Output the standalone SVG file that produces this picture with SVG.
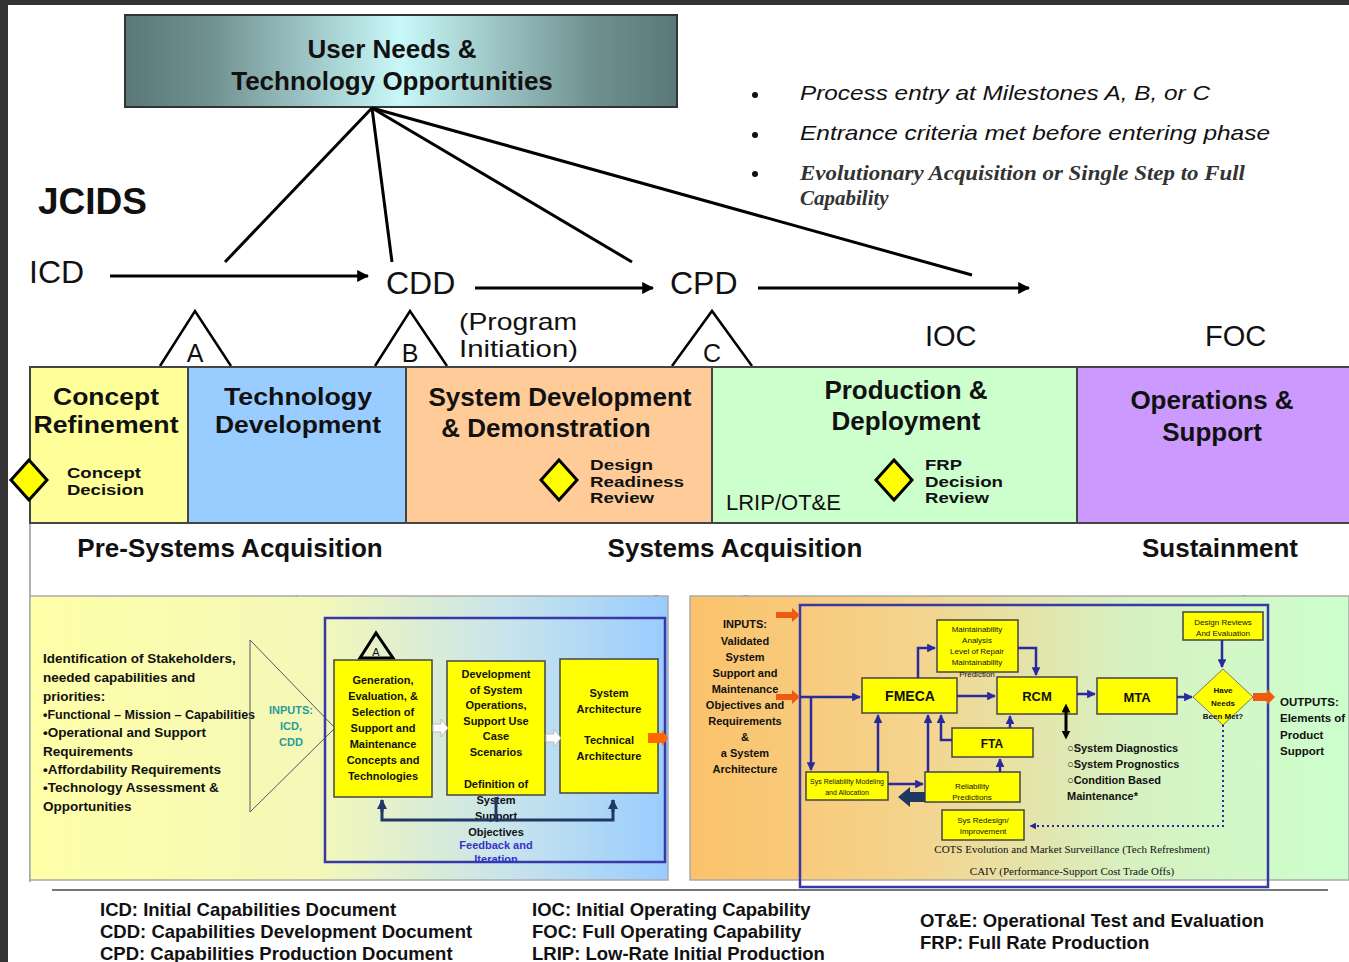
<svg xmlns="http://www.w3.org/2000/svg" width="1349" height="962" viewBox="0 0 1349 962">
<defs>
<style>
text{font-family:"Liberation Sans",Arial,sans-serif;fill:#111}
.b{font-weight:bold}
.ph{font-size:26px;font-weight:bold;text-anchor:middle}
.ph2{font-size:24px;font-weight:bold;text-anchor:middle}
.big{font-size:32px}
.dec{font-size:14.5px;font-weight:bold}
.sm{font-size:11px;font-weight:bold;text-anchor:middle}
.xs{font-size:8px;text-anchor:middle}
.lg{font-size:18.5px;font-weight:bold}
.yb{fill:#ffff00;stroke:#444;stroke-width:1.5}
.bl{stroke:#2a2aa0;stroke-width:2.5;fill:none}
.tri{fill:none;stroke:#000;stroke-width:2.5}
.dia{fill:#ffff00;stroke:#000;stroke-width:3}
</style>
<linearGradient id="gTop" x1="0" x2="1" y1="0" y2="0">
<stop offset="0" stop-color="#5a7879"/><stop offset="0.15" stop-color="#6f8f90"/><stop offset="0.5" stop-color="#c9f8f8"/><stop offset="0.85" stop-color="#6f8f90"/><stop offset="1" stop-color="#5a7879"/>
</linearGradient>
<linearGradient id="gLeft" x1="0" x2="1" y1="0" y2="0">
<stop offset="0" stop-color="#ffffa8"/><stop offset="0.45" stop-color="#f4f8b8"/><stop offset="0.75" stop-color="#c8e4ec"/><stop offset="1" stop-color="#99ccff"/>
</linearGradient>
<linearGradient id="gRight" x1="0" x2="1" y1="0" y2="0">
<stop offset="0" stop-color="#fbc26a"/><stop offset="0.35" stop-color="#f4d48e"/><stop offset="0.65" stop-color="#d8f0c0"/><stop offset="1" stop-color="#ccffcc"/>
</linearGradient>
<marker id="ak" viewBox="0 0 10 10" refX="9" refY="5" markerWidth="4" markerHeight="4" orient="auto"><path d="M0,0L10,5L0,10z" fill="#000"/></marker>
<marker id="ab" viewBox="0 0 10 10" refX="9" refY="5" markerWidth="3.5" markerHeight="3.5" orient="auto"><path d="M0,0L10,5L0,10z" fill="#2a2aa0"/></marker>
<marker id="an" viewBox="0 0 10 10" refX="9" refY="5" markerWidth="3.5" markerHeight="3.5" orient="auto"><path d="M0,0L10,5L0,10z" fill="#203864"/></marker>
<marker id="akb" viewBox="0 0 10 10" refX="5" refY="5" markerWidth="3" markerHeight="3" orient="auto-start-reverse"><path d="M0,0L10,5L0,10z" fill="#000"/></marker>
</defs>
<rect width="1349" height="962" fill="#fff"/>
<rect width="1349" height="5" fill="#333"/>
<rect width="8" height="962" fill="#333"/>

<g id="top-box">
<rect x="125" y="15" width="552" height="92" fill="url(#gTop)" stroke="#333" stroke-width="2"/>
<text x="392" y="58" class="b" font-size="26" text-anchor="middle">User Needs &amp;</text>
<text x="392" y="90" class="b" font-size="26" text-anchor="middle">Technology Opportunities</text>
</g>

<g id="bullets" font-size="21">
<circle cx="755" cy="95" r="3" fill="#111"/>
<circle cx="755" cy="135" r="3" fill="#111"/>
<circle cx="755" cy="174" r="3" fill="#111"/>
<text x="800" y="100" textLength="410" lengthAdjust="spacingAndGlyphs" style="font-style:italic">Process entry at Milestones A, B, or C</text>
<text x="800" y="140" textLength="470" lengthAdjust="spacingAndGlyphs" style="font-style:italic">Entrance criteria met before entering phase</text>
<text x="800" y="180" textLength="445" lengthAdjust="spacingAndGlyphs" style="font-family:'Liberation Serif',serif;font-style:italic;font-weight:bold;fill:#333">Evolutionary Acquisition or Single Step to Full</text>
<text x="800" y="205" style="font-family:'Liberation Serif',serif;font-style:italic;font-weight:bold;fill:#333">Capability</text>
</g>

<g id="jcids">
<text x="38" y="214" class="b" font-size="37">JCIDS</text>
<text x="29" y="283" class="big">ICD</text>
<text x="386" y="294" class="big">CDD</text>
<text x="670" y="294" class="big">CPD</text>
<text x="459" y="330" font-size="24" textLength="118" lengthAdjust="spacingAndGlyphs">(Program</text>
<text x="459" y="357" font-size="24" textLength="119" lengthAdjust="spacingAndGlyphs">Initiation)</text>
<text x="925" y="346" font-size="29">IOC</text>
<text x="1205" y="346" font-size="29">FOC</text>
</g>

<g id="milestones">
<path class="tri" d="M160,366L195,311L231,366"/>
<text x="195" y="362" font-size="25" text-anchor="middle">A</text>
<path class="tri" d="M375,366L410,311L447,366"/>
<text x="410" y="362" font-size="25" text-anchor="middle">B</text>
<path class="tri" d="M672,366L712,311L752,366"/>
<text x="712" y="362" font-size="25" text-anchor="middle">C</text>
</g>

<g id="connectors">
<g stroke="#000" stroke-width="3" fill="none">
<line x1="372" y1="108" x2="225" y2="262"/>
<line x1="372" y1="108" x2="392" y2="262"/>
<line x1="372" y1="108" x2="632" y2="262"/>
<line x1="372" y1="108" x2="972" y2="275"/>
<line x1="110" y1="276" x2="368" y2="276" marker-end="url(#ak)"/>
<line x1="475" y1="288" x2="653" y2="288" marker-end="url(#ak)"/>
<line x1="758" y1="288" x2="1029" y2="288" marker-end="url(#ak)"/>
</g>
<g stroke="#555" stroke-width="1" fill="none">
<line x1="188" y1="523" x2="330" y2="618"/>
<line x1="406" y1="523" x2="665" y2="598"/>
<line x1="406" y1="523" x2="800" y2="607"/>
<line x1="1077" y1="523" x2="1268" y2="606"/>
</g>
</g>

<g id="phases">
<rect x="8" y="523" width="1341" height="72" fill="#fff"/>
<line x1="30" y1="523" x2="30" y2="882" stroke="#999" stroke-width="1.5"/>
<rect x="30" y="367" width="158" height="156" fill="#ffff99" stroke="#444" stroke-width="2"/>
<rect x="188" y="367" width="218" height="156" fill="#99ccff" stroke="#444" stroke-width="2"/>
<rect x="406" y="367" width="306" height="156" fill="#ffcc99" stroke="#444" stroke-width="2"/>
<rect x="712" y="367" width="365" height="156" fill="#ccffcc" stroke="#444" stroke-width="2"/>
<rect x="1077" y="367" width="274" height="156" fill="#cc99ff" stroke="#444" stroke-width="2"/>
</g>

<g id="concept-refinement">
<text x="106" y="405" class="ph2" textLength="106" lengthAdjust="spacingAndGlyphs">Concept</text>
<text x="106" y="433" class="ph2" textLength="145" lengthAdjust="spacingAndGlyphs">Refinement</text>
<path class="dia" d="M29,460L47,480L29,500L11,480z"/>
<text x="67" y="478" class="dec" textLength="74" lengthAdjust="spacingAndGlyphs">Concept</text>
<text x="67" y="495" class="dec" textLength="77" lengthAdjust="spacingAndGlyphs">Decision</text>
</g>
<g id="technology-development">
<text x="298" y="405" class="ph2" textLength="148" lengthAdjust="spacingAndGlyphs">Technology</text>
<text x="298" y="433" class="ph2" textLength="166" lengthAdjust="spacingAndGlyphs">Development</text>
</g>
<g id="sdd">
<text x="560" y="406" class="ph">System Development</text>
<text x="546" y="437" class="ph">&amp; Demonstration</text>
<path class="dia" d="M559,460L577,480L559,500L541,480z"/>
<text x="590" y="470" class="dec" textLength="63" lengthAdjust="spacingAndGlyphs">Design</text>
<text x="590" y="486.5" class="dec" textLength="94" lengthAdjust="spacingAndGlyphs">Readiness</text>
<text x="590" y="503" class="dec" textLength="64" lengthAdjust="spacingAndGlyphs">Review</text>
</g>
<g id="production-deployment">
<text x="906" y="399" class="ph">Production &amp;</text>
<text x="906" y="430" class="ph">Deployment</text>
<path class="dia" d="M894,460L912,480L894,500L876,480z"/>
<text x="925" y="470" class="dec" textLength="37" lengthAdjust="spacingAndGlyphs">FRP</text>
<text x="925" y="486.5" class="dec" textLength="78" lengthAdjust="spacingAndGlyphs">Decision</text>
<text x="925" y="503" class="dec" textLength="64" lengthAdjust="spacingAndGlyphs">Review</text>
<text x="726" y="510" font-size="22">LRIP/OT&amp;E</text>
</g>
<g id="operations-support">
<text x="1212" y="409" class="ph">Operations &amp;</text>
<text x="1212" y="441" class="ph">Support</text>
</g>
<g id="acq-labels">
<text x="230" y="557" class="ph">Pre-Systems Acquisition</text>
<text x="735" y="557" class="ph">Systems Acquisition</text>
<text x="1220" y="557" class="ph">Sustainment</text>
</g>

<g id="left-panel">
<rect x="30" y="596" width="638" height="284" fill="url(#gLeft)" stroke="#aaa" stroke-width="1.5"/>
<g font-size="13.5" font-weight="bold" fill="#222">
<text x="43" y="663">Identification of Stakeholders,</text>
<text x="43" y="682">needed capabilities and</text>
<text x="43" y="701">priorities:</text>
<text x="43" y="719" font-size="12.5">•Functional – Mission – Capabilities</text>
<text x="43" y="737">•Operational and Support</text>
<text x="43" y="756">Requirements</text>
<text x="43" y="774">•Affordability Requirements</text>
<text x="43" y="792">•Technology Assessment &amp;</text>
<text x="43" y="811">Opportunities</text>
</g>
<path d="M250,640L335,728L250,812z" fill="none" stroke="#556" stroke-width="1"/>
<text x="291" y="714" class="sm" style="fill:#2a9a9a">INPUTS:</text>
<text x="291" y="730" class="sm" style="fill:#2a9a9a">ICD,</text>
<text x="291" y="746" class="sm" style="fill:#2a9a9a">CDD</text>
<rect x="325" y="618" width="340" height="244" fill="none" stroke="#3838a8" stroke-width="2.5"/>
<path d="M360,658L376,633L393,658z" fill="none" stroke="#000" stroke-width="3"/>
<text x="376" y="656" font-size="11" text-anchor="middle">A</text>
</g>

<g id="box-concepts">
<rect class="yb" x="334" y="660" width="98" height="137"/>
<text x="383" y="684" class="sm">Generation,</text>
<text x="383" y="700" class="sm">Evaluation, &amp;</text>
<text x="383" y="716" class="sm">Selection of</text>
<text x="383" y="732" class="sm">Support and</text>
<text x="383" y="748" class="sm">Maintenance</text>
<text x="383" y="764" class="sm">Concepts and</text>
<text x="383" y="780" class="sm">Technologies</text>
</g>
<g id="box-operations">
<rect class="yb" x="447" y="661" width="98" height="134"/>
<text x="496" y="678" class="sm">Development</text>
<text x="496" y="694" class="sm">of System</text>
<text x="496" y="709" class="sm">Operations,</text>
<text x="496" y="725" class="sm">Support Use</text>
<text x="496" y="740" class="sm">Case</text>
<text x="496" y="756" class="sm">Scenarios</text>
<text x="496" y="788" class="sm">Definition of</text>
<text x="496" y="804" class="sm">System</text>
<text x="496" y="820" class="sm">Support</text>
<text x="496" y="836" class="sm">Objectives</text>
</g>
<g id="box-architecture">
<rect class="yb" x="560" y="659" width="98" height="134"/>
<text x="609" y="697" class="sm">System</text>
<text x="609" y="713" class="sm">Architecture</text>
<text x="609" y="744" class="sm">Technical</text>
<text x="609" y="760" class="sm">Architecture</text>
</g>
<g id="left-flow">
<path d="M433,724h8v-5l7,9l-7,9v-5h-8z" fill="#fff" stroke="#bbb"/>
<path d="M546,734h8v-5l7,9l-7,9v-5h-8z" fill="#fff" stroke="#bbb"/>
<path d="M648,733h14v-3l6,8l-6,8v-3h-14z" fill="#ff6600"/>
<path d="M382,800V820H613V800" fill="none" stroke="#203864" stroke-width="3"/>
<line x1="382" y1="812" x2="382" y2="800" stroke="#203864" stroke-width="3" marker-end="url(#an)"/>
<line x1="613" y1="812" x2="613" y2="800" stroke="#203864" stroke-width="3" marker-end="url(#an)"/>
<line x1="496" y1="797" x2="496" y2="820" stroke="#203864" stroke-width="3"/>
<text x="496" y="849" class="sm" style="fill:#3333cc">Feedback and</text>
<text x="496" y="863" class="sm" style="fill:#3333cc">Iteration</text>
</g>

<g id="right-panel">
<rect x="690" y="596" width="659" height="284" fill="url(#gRight)" stroke="#aaa" stroke-width="1.5"/>
<g>
<text x="745" y="628" class="sm">INPUTS:</text>
<text x="745" y="645" class="sm">Validated</text>
<text x="745" y="661" class="sm">System</text>
<text x="745" y="677" class="sm">Support and</text>
<text x="745" y="693" class="sm">Maintenance</text>
<text x="745" y="709" class="sm">Objectives and</text>
<text x="745" y="725" class="sm">Requirements</text>
<text x="745" y="741" class="sm">&amp;</text>
<text x="745" y="757" class="sm">a System</text>
<text x="745" y="773" class="sm">Architecture</text>
</g>
<rect x="800" y="605" width="468" height="282" fill="none" stroke="#3838a8" stroke-width="2.5"/>
<path d="M776,612h16v-4l8,7l-8,7v-4h-16z" fill="#ee5a10"/>
<path d="M776,694h16v-4l8,7l-8,7v-4h-16z" fill="#ee5a10"/>
<path d="M1253,693h14v-4l8,8l-8,8v-4h-14z" fill="#ee5a10"/>
<g font-size="11.5" font-weight="bold">
<text x="1280" y="706">OUTPUTS:</text>
<text x="1280" y="722">Elements of</text>
<text x="1280" y="739">Product</text>
<text x="1280" y="755">Support</text>
</g>
</g>

<g id="fmeca"><rect class="yb" x="862" y="678" width="95" height="35"/><text x="910" y="701" class="sm" style="font-size:14px">FMECA</text></g>
<g id="maintainability"><rect class="yb" x="937" y="620" width="81" height="52"/>
<text x="977" y="632" class="xs">Maintainability</text><text x="977" y="643" class="xs">Analysis</text><text x="977" y="654" class="xs">Level of Repair</text><text x="977" y="665" class="xs">Maintainability</text><text x="977" y="677" class="xs">Prediction</text></g>
<g id="rcm"><rect class="yb" x="997" y="677" width="80" height="37"/><text x="1037" y="701" class="sm" style="font-size:13px">RCM</text></g>
<g id="mta"><rect class="yb" x="1097" y="678" width="80" height="36"/><text x="1137" y="702" class="sm" style="font-size:13px">MTA</text></g>
<g id="needs-met"><path d="M1223,669L1253,697L1223,725L1193,697z" fill="#ffff00" stroke="#777" stroke-width="1"/>
<text x="1223" y="693" class="xs" style="font-weight:bold">Have</text><text x="1223" y="706" class="xs" style="font-weight:bold">Needs</text><text x="1223" y="719" class="xs" style="font-weight:bold">Been Met?</text></g>
<g id="design-reviews"><rect class="yb" x="1183" y="612" width="80" height="28"/><text x="1223" y="625" class="xs">Design Reviews</text><text x="1223" y="636" class="xs">And Evaluation</text></g>
<g id="fta"><rect class="yb" x="952" y="728" width="81" height="29"/><text x="992" y="748" class="sm" style="font-size:12px">FTA</text></g>
<g id="rel-pred"><rect class="yb" x="925" y="772" width="95" height="30"/><text x="972" y="789" class="xs">Reliability</text><text x="972" y="800" class="xs">Predictions</text></g>
<g id="sys-rel"><rect class="yb" x="806" y="772" width="82" height="28"/><text x="847" y="784" class="xs" style="font-size:7px">Sys Reliability Modeling</text><text x="847" y="795" class="xs" style="font-size:7px">and Allocation</text></g>
<g id="sys-redesign"><rect class="yb" x="942" y="810" width="82" height="30"/><text x="983" y="823" class="xs">Sys Redesign/</text><text x="983" y="834" class="xs">Improvement</text></g>
<g id="rcm-notes" font-size="11" font-weight="bold">
<text x="1067" y="752">○System Diagnostics</text>
<text x="1067" y="768">○System Prognostics</text>
<text x="1067" y="784">○Condition Based</text>
<text x="1067" y="800">Maintenance*</text>
</g>
<g id="notes" text-anchor="middle" font-size="11">
<text x="1072" y="853" style="font-family:'Liberation Serif',serif">COTS Evolution and Market Surveillance (Tech Refreshment)</text>
<text x="1072" y="875" style="font-family:'Liberation Serif',serif">CAIV (Performance-Support Cost Trade Offs)</text>
</g>

<g id="right-connectors">
<line class="bl" x1="800" y1="697" x2="860" y2="697" marker-end="url(#ab)"/>
<line class="bl" x1="811" y1="697" x2="811" y2="770" marker-end="url(#ab)"/>
<line class="bl" x1="957" y1="696" x2="995" y2="696" marker-end="url(#ab)"/>
<line class="bl" x1="1077" y1="694" x2="1095" y2="694" marker-end="url(#ab)"/>
<line class="bl" x1="1177" y1="697" x2="1192" y2="697" marker-end="url(#ab)"/>
<line class="bl" x1="1222" y1="640" x2="1222" y2="667" marker-end="url(#ab)"/>
<path class="bl" d="M918,678V648H935" marker-end="url(#ab)"/>
<path class="bl" d="M1018,648H1036V675" marker-end="url(#ab)"/>
<path class="bl" d="M952,740H941V715" marker-end="url(#ab)"/>
<line class="bl" x1="1010" y1="728" x2="1010" y2="716" marker-end="url(#ab)"/>
<line class="bl" x1="1000" y1="772" x2="1000" y2="759" marker-end="url(#ab)"/>
<line class="bl" x1="928" y1="772" x2="928" y2="715" marker-end="url(#ab)"/>
<line class="bl" x1="878" y1="772" x2="878" y2="715" marker-end="url(#ab)"/>
<line class="bl" x1="888" y1="784" x2="923" y2="784" marker-end="url(#ab)"/>
<path d="M925,792H910V787L898,797L910,807V802H925z" fill="#203864"/>
<line x1="1066" y1="708" x2="1066" y2="735" stroke="#000" stroke-width="3" marker-start="url(#akb)" marker-end="url(#akb)"/>
<path d="M1223,725V826H1030" fill="none" stroke="#2a2aa0" stroke-width="2" stroke-dasharray="2,3" marker-end="url(#ab)"/>
</g>

<g id="legend">
<line x1="52" y1="890" x2="1328" y2="890" stroke="#777" stroke-width="2"/>
<text x="100" y="916" class="lg">ICD: Initial Capabilities Document</text>
<text x="100" y="938" class="lg">CDD: Capabilities Development Document</text>
<text x="100" y="960" class="lg">CPD: Capabilities Production Document</text>
<text x="532" y="916" class="lg">IOC: Initial Operating Capability</text>
<text x="532" y="938" class="lg">FOC: Full Operating Capability</text>
<text x="532" y="960" class="lg">LRIP: Low-Rate Initial Production</text>
<text x="920" y="927" class="lg">OT&amp;E: Operational Test and Evaluation</text>
<text x="920" y="949" class="lg">FRP: Full Rate Production</text>
</g>
</svg>
